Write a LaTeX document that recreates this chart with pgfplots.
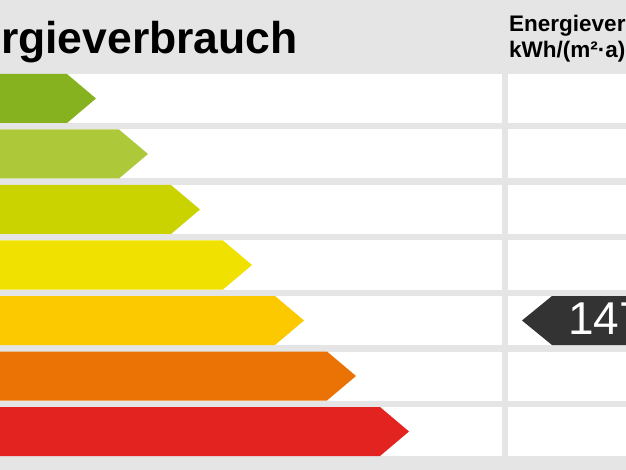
\documentclass[border=0pt]{standalone}
\usepackage{pgfplots}
\pgfplotsset{compat=1.18}
\usepackage{fontspec}
\setmainfont{Liberation Sans}
\definecolor{bg}{HTML}{E5E5E5}
\definecolor{cA}{HTML}{86B220}
\definecolor{cB}{HTML}{ADC93A}
\definecolor{cC}{HTML}{CAD300}
\definecolor{cD}{HTML}{F0E100}
\definecolor{cE}{HTML}{FCC800}
\definecolor{cF}{HTML}{EB7205}
\definecolor{cG}{HTML}{E2231F}
\definecolor{dark}{HTML}{333333}
\begin{document}
\begin{tikzpicture}[x=1pt,y=1pt]
\useasboundingbox (0,0) rectangle (626,470);
\clip (0,0) rectangle (626,470);
\fill[bg] (0,0) rectangle (626,470);
\begin{axis}[at={(0,0)},anchor=south west,scale only axis,
  width=626pt,height=470pt,xmin=0,xmax=626,ymin=0,ymax=470,
  y dir=reverse,hide axis,clip=false]
% white row cells (left and right columns)
\addplot[fill=white,draw=none] coordinates {(-5,74)(502,74)(502,123)(-5,123)} --cycle;
\addplot[fill=white,draw=none] coordinates {(-5,129.5)(502,129.5)(502,178.5)(-5,178.5)} --cycle;
\addplot[fill=white,draw=none] coordinates {(-5,185)(502,185)(502,234)(-5,234)} --cycle;
\addplot[fill=white,draw=none] coordinates {(-5,240.5)(502,240.5)(502,289.5)(-5,289.5)} --cycle;
\addplot[fill=white,draw=none] coordinates {(-5,296)(502,296)(502,345)(-5,345)} --cycle;
\addplot[fill=white,draw=none] coordinates {(-5,351.5)(502,351.5)(502,400.5)(-5,400.5)} --cycle;
\addplot[fill=white,draw=none] coordinates {(-5,407)(502,407)(502,456)(-5,456)} --cycle;
\addplot[fill=white,draw=none] coordinates {(508,74)(630,74)(630,123)(508,123)} --cycle;
\addplot[fill=white,draw=none] coordinates {(508,129.5)(630,129.5)(630,178.5)(508,178.5)} --cycle;
\addplot[fill=white,draw=none] coordinates {(508,185)(630,185)(630,234)(508,234)} --cycle;
\addplot[fill=white,draw=none] coordinates {(508,240.5)(630,240.5)(630,289.5)(508,289.5)} --cycle;
\addplot[fill=white,draw=none] coordinates {(508,296)(630,296)(630,345)(508,345)} --cycle;
\addplot[fill=white,draw=none] coordinates {(508,351.5)(630,351.5)(630,400.5)(508,400.5)} --cycle;
\addplot[fill=white,draw=none] coordinates {(508,407)(630,407)(630,456)(508,456)} --cycle;
% class arrows
\addplot[fill=cA,draw=none] coordinates {(-5,74)(67,74)(96,98.5)(67,123)(-5,123)} --cycle;
\addplot[fill=cB,draw=none] coordinates {(-5,129.5)(119,129.5)(148,154)(119,178.5)(-5,178.5)} --cycle;
\addplot[fill=cC,draw=none] coordinates {(-5,185)(171,185)(200,209.5)(171,234)(-5,234)} --cycle;
\addplot[fill=cD,draw=none] coordinates {(-5,240.5)(223,240.5)(252,265)(223,289.5)(-5,289.5)} --cycle;
\addplot[fill=cE,draw=none] coordinates {(-5,296)(275,296)(304,320.5)(275,345)(-5,345)} --cycle;
\addplot[fill=cF,draw=none] coordinates {(-5,351.5)(327,351.5)(356,376)(327,400.5)(-5,400.5)} --cycle;
\addplot[fill=cG,draw=none] coordinates {(-5,407)(380,407)(409,431.5)(380,456)(-5,456)} --cycle;
% value marker
\addplot[fill=dark,draw=none] coordinates {(630,296)(552,296)(522,320.5)(552,345)(630,345)} --cycle;
\end{axis}
\node[anchor=base east,inner sep=0pt,font=\fontsize{44.5}{50}\selectfont\bfseries] at (298,416) {Energieverbrauch};
\node[anchor=base west,inner sep=0pt,font=\fontsize{22.5}{26}\selectfont\bfseries] at (509,438) {Energieverbrauchskennwert};
\node[anchor=base west,inner sep=0pt,font=\fontsize{22.5}{26}\selectfont\bfseries] at (509,412) {kWh/(m²·a)};
\node[anchor=base west,inner sep=0pt,text=white,font=\fontsize{46}{50}\selectfont] at (568,135) {147};
\end{tikzpicture}
\end{document}
